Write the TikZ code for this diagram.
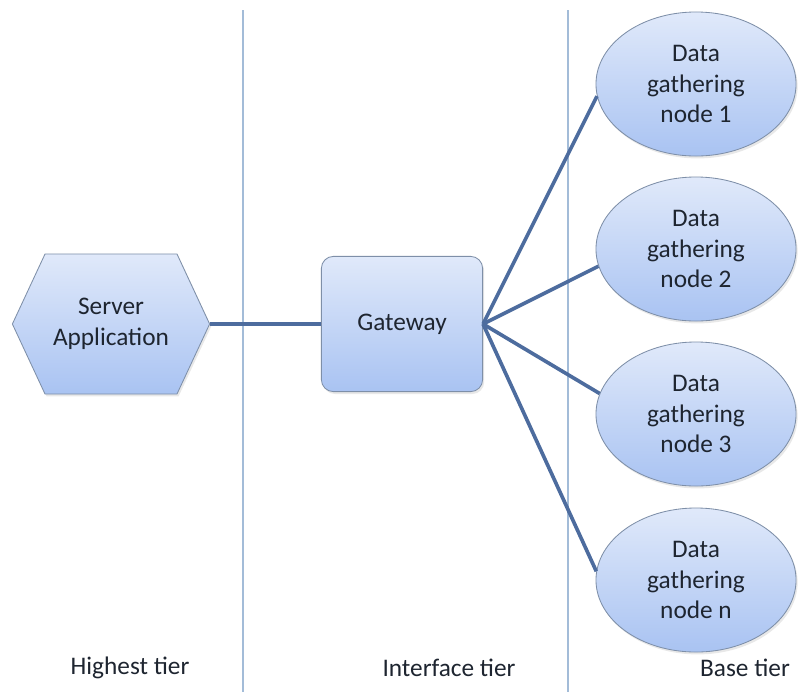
\documentclass[tikz,border=0pt]{standalone}
\usepackage{fontspec}
\setmainfont{Carlito}
\usepackage{tikz}
\usetikzlibrary{positioning, shapes.geometric, shapes.symbols, shadows}

\definecolor{boxtop}{HTML}{E0E9FA}
\definecolor{boxbot}{HTML}{A9C3F2}
\definecolor{boxline}{HTML}{7E8FA8}
\definecolor{linkcol}{HTML}{4D6C9E}
\definecolor{tiercol}{HTML}{A3BCD8}
\definecolor{textcol}{HTML}{1E2530}

\begin{document}
\begin{tikzpicture}[x=0.025cm, y=-0.025cm,
        every node/.style={font=\fontsize{18}{22}\selectfont, text=textcol, align=center},
        shade/.style={draw=boxline, line width=0.6pt, top color=boxtop, bottom color=boxbot,
            drop shadow={opacity=0.18, shadow xshift=0.04cm, shadow yshift=-0.06cm}},
        gatherbox/.style={shade, ellipse, minimum width=5cm, minimum height=3.6cm, inner sep=0pt},
        link/.style={draw=linkcol, line width=2.6pt},
        tierline/.style={draw=tiercol, line width=1pt}]
      \useasboundingbox (0,0) rectangle (799,692);

      % Tier separators
      \coordinate (sepAtop) at (243,10);
      \coordinate (sepAbot) at (243,692);
      \coordinate (sepBtop) at (568,10);
      \coordinate (sepBbot) at (568,692);
      \draw[tierline] (sepAtop) -- (sepAbot);
      \draw[tierline] (sepBtop) -- (sepBbot);

      % Highest tier
      \node[shade, signal, signal from=nowhere, signal to=west and east, signal pointer angle=130,
            minimum width=4.93cm, minimum height=3.5cm, inner sep=0pt] (server) at (111,324) {Server\\Application};

      % Interface tier
      \node[shade, rectangle, rounded corners=0.3cm, minimum width=4.03cm, minimum height=3.38cm] (gateway) at (402,324) {Gateway};
      \draw[link] (server.east) -- (gateway.west);

      % Base tier
      \node[gatherbox] (gather1) at (696,84) {Data\\gathering\\node 1};
      \node[gatherbox] (gather2) at (696,249) {Data\\gathering\\node 2};
      \node[gatherbox] (gather3) at (696,414) {Data\\gathering\\node 3};
      \node[gatherbox] (gathern) at (696,580) {Data\\gathering\\node n};

      \foreach \g/\a in {1/187, 2/190, 3/168, n/175}
        \draw[link] (gateway.east) -- (gather\g.\a);

      % Tier labels
      \node (highest) at (130,668) {Highest tier};
      \node (interface) at (449,668) {Interface tier};
      \node (base) at (745,668) {Base tier};
\end{tikzpicture}
\end{document}
